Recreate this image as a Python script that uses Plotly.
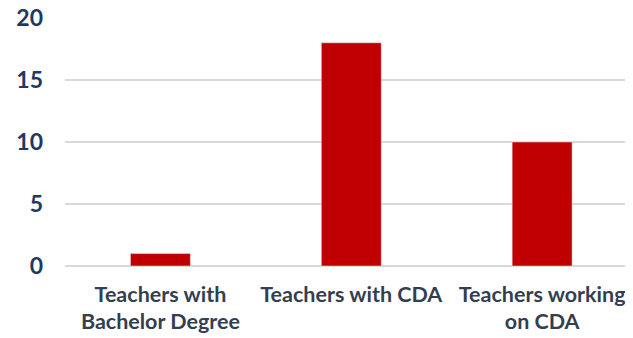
import plotly.graph_objects as go

categorias = ["Teachers with<br>Bachelor Degree", "Teachers with CDA", "Teachers working<br>on CDA"]
valores = [1, 18, 10]
ticks_y = [0, 5, 10, 15, 20]

fig = go.Figure(
    go.Bar(
        x=categorias,
        y=valores,
        marker_color="#C00000",
        width=0.314,
    )
)

# a página tem margem de 8px no body, compensada aqui
fig.update_layout(
    width=633,
    height=338,
    margin=dict(l=57, r=0, t=10, b=79.5),
    paper_bgcolor="white",
    plot_bgcolor="white",
    showlegend=False,
    font=dict(family="Lato", size=21.5, color="#333F50"),
)

fig.update_xaxes(
    range=[-0.5, 2.518],
    showgrid=False,
    showline=False,
    ticks="",
    tickfont=dict(family="Lato", size=21.5, color="#333F50", weight="bold"),
    ticklabelstandoff=13,
    automargin=False,
)

fig.update_yaxes(
    range=[0, 20],
    tickvals=ticks_y,
    showgrid=True,
    gridcolor="#D9D9D9",
    gridwidth=1.5,
    zeroline=True,
    zerolinecolor="#D9D9D9",
    zerolinewidth=1.5,
    showline=False,
    ticks="",
    tickfont=dict(family="Lato", size=23, color="#1F3864", weight="bold"),
    ticklabelstandoff=21,
    ticklabeloverflow="allow",
    automargin=False,
)

fig.write_html("out.html")
